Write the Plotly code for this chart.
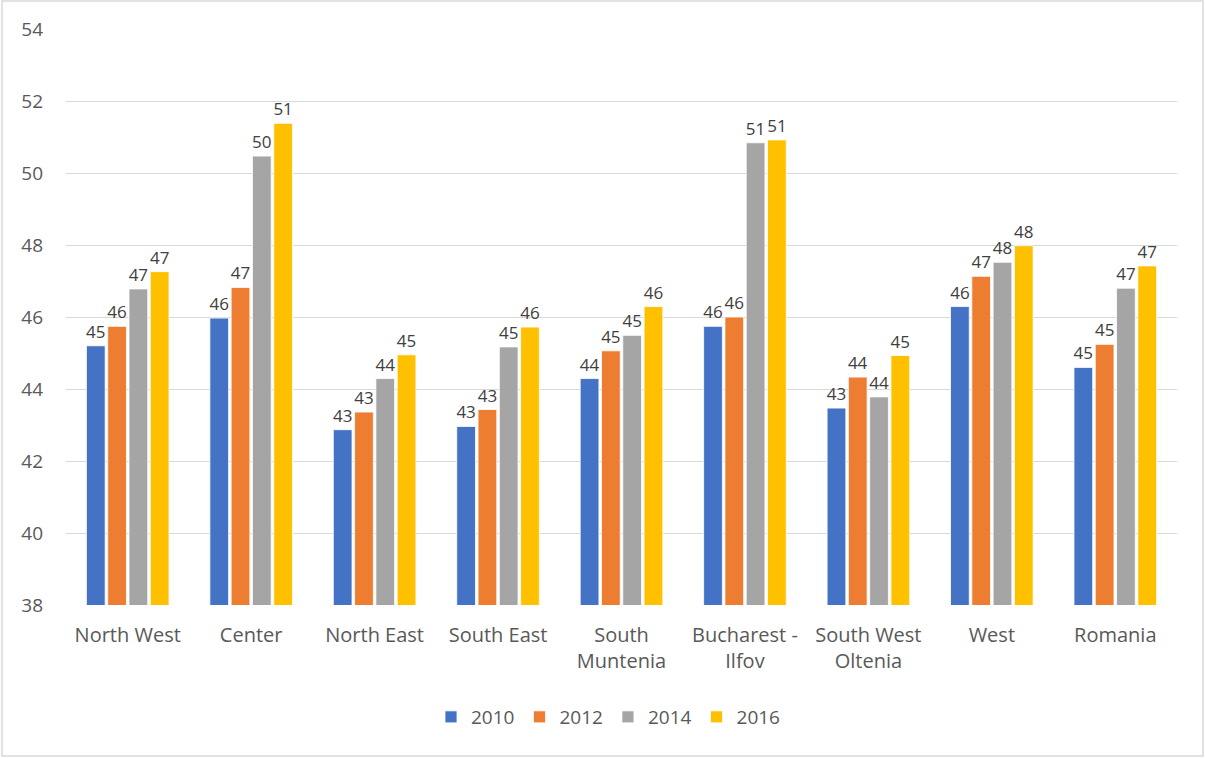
import plotly.graph_objects as go

categories = ["North West", "Center", "North East", "South East", "South<br>Muntenia",
              "Bucharest -<br>Ilfov", "South West<br>Oltenia", "West", "Romania"]
years = ["2010", "2012", "2014", "2016"]
v2010 = [45.20, 45.97, 42.87, 42.96, 44.29, 45.74, 43.47, 46.29, 44.60]
v2012 = [45.74, 46.82, 43.36, 43.43, 45.06, 46.00, 44.33, 47.13, 45.24]
v2014 = [46.78, 50.47, 44.29, 45.17, 45.49, 50.84, 43.78, 47.52, 46.80]
v2016 = [47.26, 51.38, 44.95, 45.72, 46.29, 50.92, 44.93, 47.98, 47.42]
colors = ["#4472C4", "#ED7D31", "#A5A5A5", "#FFC000"]

FONT = "Open Sans"
fig = go.Figure()
for name, vals, col in zip(years, [v2010, v2012, v2014, v2016], colors):
    fig.add_trace(go.Bar(
        x=categories, y=vals, name=name,
        marker=dict(color=col, line=dict(color="white", width=0.8)),
        text=vals, texttemplate="%{y:.0f}", textposition="outside",
        constraintext="none", cliponaxis=False,
        textfont=dict(family=FONT, size=17, color="#404040"),
    ))

W, H = 1205, 758
l, r, t, b = 66, 28, 29, 153
pw, ph = W - l - r, H - t - b

fig.update_layout(
    width=W, height=H,
    margin=dict(l=l, r=r, t=t, b=b),
    paper_bgcolor="white", plot_bgcolor="white",
    barmode="group", bargap=0.31, bargroupgap=0.12,
    font=dict(family=FONT, color="#595959"),
    legend=dict(orientation="h", x=(608 - l) / pw, xanchor="center",
                y=(H - b - 717) / ph, yanchor="middle",
                font=dict(family=FONT, size=19, color="#595959"),
                itemwidth=30, traceorder="normal"),
    xaxis=dict(showgrid=False, showline=False, ticks="",
               tickfont=dict(family=FONT, size=20, color="#595959"),
               ticklabelstandoff=16),
    yaxis=dict(range=[38, 54], dtick=2, tick0=38, showgrid=True,
               gridcolor="#D9D9D9", gridwidth=1, zeroline=False, showline=False,
               ticks="", tickfont=dict(family=FONT, size=19, color="#595959"),
               ticklabelstandoff=22),
    shapes=[dict(type="rect", xref="paper", yref="paper",
                 x0=(2 - l) / pw, x1=(1203 - l) / pw,
                 y0=(H - b - 756) / ph, y1=(H - b - 1) / ph,
                 line=dict(color="#D9D9D9", width=1.5), fillcolor="rgba(0,0,0,0)",
                 layer="below")],
)

fig.write_html("out.html")
